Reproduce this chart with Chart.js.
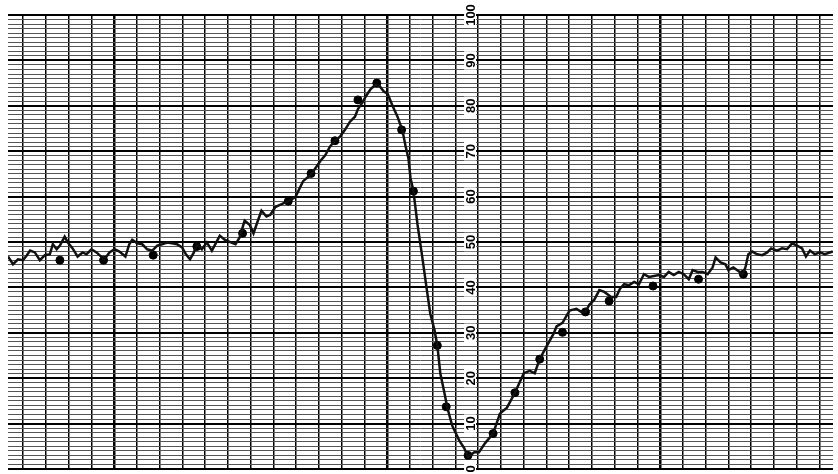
<!DOCTYPE html>
<html>
<head>
<meta charset="utf-8">
<script src="https://cdn.jsdelivr.net/npm/chart.js@4.4.1/dist/chart.umd.min.js"></script>
<style>
  body { margin: 0; background: #fff; }
  #wrap { width: 838px; height: 474px; }
</style>
</head>
<body>
<div id="wrap"><canvas id="myChart"></canvas></div>
<script>
// x = chart divisions (one per vertical rule), y = recorder scale 0-100
const traceX = [-0.66, -0.44, -0.22, 0, 0.17, 0.31, 0.52, 0.74, 0.96, 1.18, 1.31, 1.48, 1.62, 1.83, 1.97, 2.18, 2.4, 2.62, 2.79, 3.01,
  3.23, 3.36, 3.58, 3.8, 4.02, 4.24, 4.5, 4.67, 4.8, 5.02, 5.24, 5.46, 5.68, 5.9, 6.11, 6.33, 6.55, 6.77, 6.99, 7.16,
  7.34, 7.51, 7.64, 7.86, 8.08, 8.3, 8.47, 8.65, 8.86, 9.13, 9.34, 9.52, 9.74, 9.96, 10.13, 10.26, 10.48, 10.7, 10.87, 11.09,
  11.22, 11.66, 11.97, 12.31, 12.62, 12.79, 13.06, 13.28, 13.49, 13.71, 13.93, 14.15, 14.37, 14.59, 14.72, 14.93, 15.07, 15.28, 15.5, 15.68,
  15.85, 16.03, 16.24, 16.46, 16.68, 16.81, 16.94, 17.03, 17.16, 17.34, 17.55, 17.73, 17.9, 18.08, 18.21, 18.34, 18.52, 18.65, 18.86, 19.17,
  19.39, 19.56, 19.83, 20.04, 20.31, 20.66, 20.96, 21.27, 21.62, 22.01, 22.27, 22.49, 22.71, 23.01, 23.32, 23.45, 23.71, 24.02, 24.32, 24.54,
  24.72, 24.89, 25.11, 25.33, 25.55, 25.85, 26.07, 26.24, 26.42, 26.64, 26.86, 27.07, 27.29, 27.51, 27.73, 27.95, 28.17, 28.38, 28.6, 28.82,
  29.04, 29.26, 29.43, 29.65, 29.87, 30.09, 30.31, 30.44, 30.66, 30.87, 31.0, 31.22, 31.44, 31.62, 31.75, 31.88, 32.05, 32.27, 32.49, 32.71,
  32.88, 33.14, 33.36, 33.58, 33.8, 34.02, 34.24, 34.41, 34.59, 34.8, 35.02, 35.24, 35.59]
const traceY = [46.8, 45.1, 46.2, 46.0, 47.1, 48.1, 47.7, 46.0, 47.1, 47.3, 49.5, 48.4, 49.2, 51.2, 49.9, 48.6, 46.8, 47.7, 47.3, 48.4,
  47.7, 47.1, 46.2, 47.7, 48.4, 47.9, 46.8, 49.5, 50.5, 49.7, 49.5, 48.4, 48.1, 49.2, 49.5, 49.9, 49.7, 49.5, 48.8, 47.3,
  46.2, 47.7, 49.5, 48.4, 49.9, 48.1, 49.7, 51.4, 50.5, 49.9, 49.5, 51.0, 54.7, 53.8, 51.9, 53.8, 56.9, 55.6, 56.0, 57.7,
  58.0, 59.0, 59.9, 63.4, 64.7, 65.8, 67.8, 69.1, 71.0, 72.3, 73.2, 74.7, 76.5, 77.6, 79.3, 80.8, 82.1, 83.7, 84.7, 84.3,
  83.2, 82.6, 80.0, 77.6, 74.5, 71.2, 68.4, 64.1, 61.2, 53.8, 46.6, 40.1, 34.2, 30.7, 27.2, 21.1, 16.8, 13.5, 9.6, 6.3,
  4.6, 2.6, 3.7, 3.7, 5.7, 7.8, 12.2, 13.5, 16.8, 21.1, 21.6, 21.1, 24.2, 27.0, 29.8, 31.4, 32.2, 34.9, 35.3, 34.6,
  34.6, 36.2, 37.3, 39.4, 39.0, 37.9, 37.9, 39.7, 40.7, 40.5, 41.2, 40.7, 42.9, 42.3, 42.5, 42.7, 42.3, 43.4, 42.7, 43.4,
  42.9, 41.8, 43.8, 43.4, 43.4, 42.9, 44.4, 46.6, 45.5, 45.1, 43.8, 44.4, 43.6, 42.9, 44.4, 47.3, 47.9, 47.3, 47.1, 47.7,
  48.6, 48.1, 48.6, 48.4, 49.7, 49.2, 48.6, 46.8, 48.1, 47.3, 47.7, 47.3, 47.9]

// hand-plotted dots on the trace
const dotX = [1.62, 3.54, 5.72, 7.64, 9.65, 11.66, 12.66, 13.71, 14.72, 15.55, 16.64, 17.16, 18.21, 18.6, 19.56, 20.66, 21.62, 22.71, 23.71, 24.72, 25.76, 27.69, 29.69, 31.66]
const dotY = [46.0, 46.0, 47.1, 49.0, 51.9, 59.0, 65.1, 72.3, 81.3, 85.0, 74.7, 61.2, 27.2, 13.7, 3.0, 7.8, 16.8, 24.2, 30.1, 34.6, 37.0, 40.3, 41.8, 42.9]

const yTickLabels = [0, 10, 20, 30, 40, 50, 60, 70, 80, 90, 100]
const labelColumn = 20
const xRules = []
for (let i = 0; i <= 35; i++) xRules.push(i)
const heavyRules = [4, 16, 28]

const scaleLabels = {
  id: 'scaleLabels',
  beforeDatasetsDraw(chart) {
    const { ctx, scales: { x, y } } = chart
    const px = x.getPixelForValue(labelColumn) - 8
    ctx.font = 'bold 13px "Liberation Sans"'
    yTickLabels.forEach(v => {
      const py = y.getPixelForValue(v)
      const txt = String(v)
      const w = ctx.measureText(txt).width
      ctx.save()
      ctx.translate(px, py)
      ctx.rotate(-Math.PI / 2)
      ctx.fillStyle = '#fff'
      ctx.fillRect(-w / 2 - 2, -6, w + 4, 12)
      ctx.fillStyle = '#000'
      ctx.textAlign = 'center'
      ctx.textBaseline = 'middle'
      ctx.fillText(txt, 0, 1)
      ctx.restore()
    })
  }
}

const ctx = document.getElementById('myChart')

const config = {
  type: 'line',
  data: {
    datasets: [{
      data: traceX.map((x, i) => ({ x, y: traceY[i] })),
      borderColor: '#111',
      borderWidth: 2.5,
      pointRadius: 0,
      tension: 0
    }, {
      data: dotX.map((x, i) => ({ x, y: dotY[i] })),
      showLine: false,
      pointRadius: 4,
      pointBackgroundColor: '#000',
      pointBorderColor: '#000'
    }]
  },
  options: {
    responsive: true,
    maintainAspectRatio: false,
    animation: false,
    layout: { padding: { left: 8, top: 15, right: 0, bottom: 0 } },
    plugins: { legend: { display: false }, tooltip: { enabled: false } },
    scales: {
      x: {
        type: 'linear',
        min: -0.66,
        max: 35.6,
        afterBuildTicks: scale => { scale.ticks = xRules.map(v => ({ value: v })) },
        ticks: { display: false },
        border: { display: false },
        grid: {
          drawTicks: false,
          color: '#000',
          lineWidth: c => heavyRules.includes(c.tick.value) ? 2.5 : 1.5
        }
      },
      y: {
        min: 0,
        max: 100,
        ticks: { display: false, stepSize: 1, autoSkip: false },
        border: { display: false },
        grid: {
          drawTicks: false,
          color: c => c.tick.value % 10 === 0 ? '#000' : '#555',
          lineWidth: c => c.tick.value % 10 === 0 ? 2 : 1
        }
      }
    }
  },
  plugins: [scaleLabels]
}

const myChart = new Chart(ctx, config)
</script>
</body>
</html>
